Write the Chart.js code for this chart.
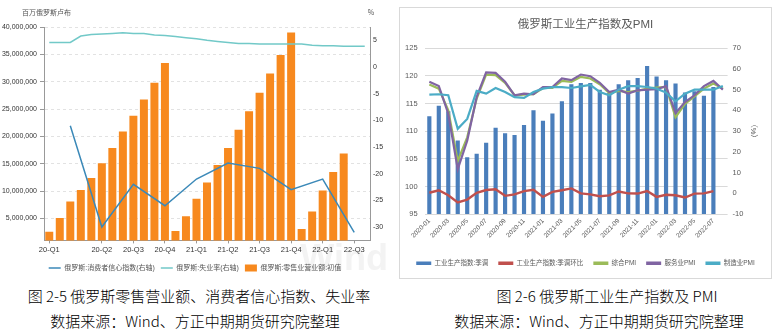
<!DOCTYPE html>
<html>
<head>
<meta charset="utf-8">
<script src="https://cdn.jsdelivr.net/npm/chart.js@4.4.1/dist/chart.umd.min.js"></script>
<style>
  body { margin: 0; background: #fff; }
  #page { position: relative; width: 772px; height: 332px; overflow: hidden; background: #fff; }
  #leftBox { position: absolute; left: 0; top: 0; width: 390px; height: 285px; }
  #rightBox { position: absolute; left: 399px; top: 7px; width: 373px; height: 272px; border: 1px solid #d9d9d9; box-sizing: border-box; }
  #rightBox canvas, #leftBox canvas { display: block; }
  .cap { position: absolute; font-family: "Noto Sans CJK SC", sans-serif; font-weight: 300; font-size: 15px; line-height: 16px; color: #000; white-space: nowrap; transform: translateX(-50%); }
</style>
</head>
<body>
<div id="page">
  <div id="leftBox"><canvas id="retailChart"></canvas></div>
  <div id="rightBox"><canvas id="ipChart"></canvas></div>
  <div class="cap" style="left:199px;top:288px">图 2-5 俄罗斯零售营业额、消费者信心指数、失业率</div>
  <div class="cap" style="left:195px;top:313px">数据来源：Wind、方正中期期货研究院整理</div>
  <div class="cap" style="left:607px;top:288px">图 2-6 俄罗斯工业生产指数及 PMI</div>
  <div class="cap" style="left:599px;top:313px">数据来源：Wind、方正中期期货研究院整理</div>
</div>
<script>
  // --- left chart data (monthly, 2020-01 .. 2022-07) ---
  const retailMonths = [
    '2020-01','2020-02','2020-03','2020-04','2020-05','2020-06','2020-07','2020-08','2020-09','2020-10','2020-11','2020-12',
    '2021-01','2021-02','2021-03','2021-04','2021-05','2021-06','2021-07','2021-08','2021-09','2021-10','2021-11','2021-12',
    '2022-01','2022-02','2022-03','2022-04','2022-05','2022-06','2022-07'
  ];
  const retailQuarterTicks = [
    '20-Q1','','','','','20-Q2','','','20-Q3','','','20-Q4',
    '','','21-Q1','','','21-Q2','','','21-Q3','','','21-Q4',
    '','','22-Q1','','','22-Q3',''
  ];
  // 零售业营业额:初值 (百万俄罗斯卢布, 年内累计)
  const retailTurnover = [
    2600000, 5100000, 8100000, 10200000, 12400000, 15100000, 17900000, 20900000, 23800000, 26750000, 29800000, 33400000,
    2700000, 5400000, 8600000, 11600000, 14800000, 17900000, 21200000, 24600000, 28000000, 31500000, 34900000, 39000000,
    3100000, 6300000, 10100000, 13500000, 16900000, null, null
  ];
  // 消费者信心指数 (季度)
  const consumerConfidence = [
    null, null, -11, null, null, -30, null, null, -22, null, null, -26,
    null, null, -21, null, null, -18, null, null, -19, null, null, -23,
    null, null, -21, null, null, -31, null
  ];
  // 失业率 (%)
  const unemploymentRate = [
    4.6, 4.6, 4.6, 5.8, 6.1, 6.2, 6.3, 6.4, 6.3, 6.3, 6.0, 5.9,
    5.7, 5.5, 5.3, 5.0, 4.8, 4.6, 4.4, 4.4, 4.3, 4.3, 4.3, 4.3,
    4.3, 4.1, 4.0, 4.0, 3.9, 3.9, 3.9
  ];
  const retailAxisTicks = [5000000, 10000000, 15000000, 20000000, 25000000, 30000000, 35000000, 40000000];
  const rateAxisTicks = [-30, -25, -20, -15, -10, -5, 0, 5];

  // --- right chart data (monthly, 2020-01 .. 2022-08) ---
  const ipMonths = [
    '2020-01','2020-02','2020-03','2020-04','2020-05','2020-06','2020-07','2020-08','2020-09','2020-10','2020-11','2020-12',
    '2021-01','2021-02','2021-03','2021-04','2021-05','2021-06','2021-07','2021-08','2021-09','2021-10','2021-11','2021-12',
    '2022-01','2022-02','2022-03','2022-04','2022-05','2022-06','2022-07','2022-08'
  ];
  const ipIndexSA = [
    112.7, 114.6, 113.6, 108.3, 105.3, 105.9, 107.9, 110.6, 109.6, 109.3, 111.1, 113.8,
    111.9, 113.2, 115.4, 118.5, 118.7, 118.7, 117.5, 116.9, 118.5, 119.2, 119.6, 121.8,
    119.9, 119.2, 118.6, 117.0, 117.2, 116.4, 118.0, null
  ];
  const ipMoM = [
    0.3, 1.5, -0.9, -4.4, -3.0, 0.3, 1.6, 2.0, -1.2, -0.5, 1.1, 1.7,
    -1.7, 0.7, 1.5, 2.4, 0.0, -0.5, -1.4, -1.0, 0.9, 0.0, -0.1, 1.1,
    -1.7, -0.7, -0.9, -2.0, -0.1, 0.0, 1.1, null
  ];
  const pmiComposite = [
    52.5, 50.5, 40.0, 15.6, 27.0, 45.7, 57.3, 57.0, 53.3, 47.3, 47.6, 47.8,
    50.8, 50.8, 54.2, 53.8, 56.2, 55.4, 52.6, 48.4, 49.4, 48.8, 49.5, 50.5,
    51.0, 51.3, 36.7, 43.2, 46.8, 50.5, 53.0, 50.5
  ];
  const pmiServices = [
    53.8, 51.8, 38.4, 11.6, 25.4, 46.5, 58.3, 58.1, 53.8, 47.3, 48.1, 47.8,
    51.3, 51.3, 55.4, 54.6, 57.3, 56.5, 53.3, 48.9, 50.0, 48.1, 49.7, 50.0,
    50.2, 51.7, 38.7, 44.0, 47.3, 51.7, 54.2, 50.0
  ];
  const pmiManufacturing = [
    47.6, 47.8, 47.3, 31.1, 35.9, 49.4, 48.1, 50.8, 48.9, 46.4, 46.0, 48.9,
    50.5, 51.2, 51.2, 50.8, 51.6, 52.3, 48.9, 47.3, 50.0, 51.7, 51.7, 51.3,
    50.5, 48.6, 44.4, 48.1, 50.0, 50.0, 50.0, 51.8
  ];

  Chart.defaults.font.family = "'Liberation Sans', 'Noto Sans CJK SC', sans-serif";
  Chart.defaults.animation = false;

  // legend items in dataset order, with line / rect markers
  function legendItems(chart) {
    const items = Chart.defaults.plugins.legend.labels.generateLabels(chart);
    items.forEach(function (it) {
      const ds = chart.data.datasets[it.datasetIndex];
      it.pointStyle = ds.type === 'line' ? 'line' : 'rect';
    });
    return items.sort(function (a, b) { return a.datasetIndex - b.datasetIndex; });
  }

  // unit captions above the axes + faint watermark
  const axisUnits = {
    id: 'axisUnits',
    beforeDraw(chart, args, opts) {
      const ctx = chart.ctx, area = chart.chartArea;
      ctx.save();
      ctx.font = 'bold 36px "Liberation Sans"';
      ctx.fillStyle = '#f3f3f3';
      ctx.textAlign = 'right';
      ctx.textBaseline = 'alphabetic';
      ctx.fillText(opts.mark, area.right + 18, area.bottom + 30);
      ctx.restore();
    },
    afterDraw(chart, args, opts) {
      const ctx = chart.ctx, area = chart.chartArea;
      ctx.save();
      ctx.font = '7px "Noto Sans CJK SC"';
      ctx.fillStyle = '#555';
      ctx.textBaseline = 'middle';
      ctx.textAlign = 'left';
      ctx.fillText(opts.left, area.left - 22, area.top - 15);
      ctx.textAlign = 'center';
      ctx.fillText(opts.right, area.right + 1, area.top - 15);
      ctx.restore();
    }
  };

  new Chart(document.getElementById('retailChart'), {
    type: 'bar',
    plugins: [axisUnits],
    data: {
      labels: retailMonths,
      datasets: [
        { type: 'line', label: '俄罗斯:消费者信心指数(右轴)', data: consumerConfidence, yAxisID: 'yRate',
          borderColor: '#3b89b8', backgroundColor: '#3b89b8', borderWidth: 1.5, pointRadius: 0, spanGaps: true, order: 1 },
        { type: 'line', label: '俄罗斯:失业率(右轴)', data: unemploymentRate, yAxisID: 'yRate',
          borderColor: '#72c9c8', backgroundColor: '#72c9c8', borderWidth: 1.5, pointRadius: 0, order: 2 },
        { label: '俄罗斯:零售业营业额:初值', data: retailTurnover, yAxisID: 'yRetail',
          backgroundColor: '#f7891e', borderWidth: 0, categoryPercentage: 1, barPercentage: 0.76, order: 3 }
      ]
    },
    options: {
      responsive: true,
      maintainAspectRatio: false,
      layout: { padding: { top: 27, left: 0, right: 0, bottom: 3.6 } },
      plugins: {
        tooltip: { enabled: false },
        axisUnits: { left: '百万俄罗斯卢布', right: '%', mark: 'Wind' },
        legend: {
          position: 'bottom',
          labels: {
            usePointStyle: true, pointStyleWidth: 12, boxHeight: 7, padding: 6,
            color: '#555', font: { size: 7 }, generateLabels: legendItems
          }
        }
      },
      scales: {
        x: {
          offset: true,
          grid: {
            offset: false, drawOnChartArea: false, tickLength: 3,
            color: function (c) { return retailQuarterTicks[c.index] ? '#999' : 'rgba(0,0,0,0)'; }
          },
          border: { color: '#999' },
          ticks: {
            autoSkip: false, maxRotation: 0, minRotation: 0, padding: 2,
            color: '#333', font: { size: 7.5 },
            callback: function (v, i) { return retailQuarterTicks[i]; }
          },
          afterFit: function (s) { s.height = 18; }
        },
        yRetail: {
          position: 'left', min: 1000000, max: 40000000,
          afterBuildTicks: function (s) { s.ticks = retailAxisTicks.map(function (v) { return { value: v }; }); },
          afterFit: function (s) { s.width = 44; },
          grid: { color: '#e2e2e2', tickColor: '#999', tickLength: 4 },
          border: { color: '#999', dash: [3, 3] },
          ticks: {
            padding: 3, color: '#333', font: { size: 7 },
            callback: function (v) { return v.toLocaleString('en-US'); }
          }
        },
        yRate: {
          position: 'right', min: -32.5, max: 7.5,
          afterBuildTicks: function (s) { s.ticks = rateAxisTicks.map(function (v) { return { value: v }; }); },
          afterFit: function (s) { s.width = 20; },
          grid: { display: false, drawTicks: false },
          border: { color: '#999' },
          ticks: { padding: 3, color: '#333', font: { size: 7 } }
        }
      }
    }
  });

  new Chart(document.getElementById('ipChart'), {
    type: 'bar',
    data: {
      labels: ipMonths,
      datasets: [
        { label: '工业生产指数:季调', data: ipIndexSA, yAxisID: 'y',
          backgroundColor: '#4a7ebb', borderColor: '#4a7ebb', borderWidth: 0,
          categoryPercentage: 1, barPercentage: 0.44, order: 6 },
        { type: 'line', label: '工业生产指数:季调环比', data: ipMoM, yAxisID: 'y1',
          borderColor: '#c0504d', backgroundColor: '#c0504d', borderWidth: 2.4, pointRadius: 0, order: 5 },
        { type: 'line', label: '综合PMI', data: pmiComposite, yAxisID: 'y1',
          borderColor: '#9bbb59', backgroundColor: '#9bbb59', borderWidth: 2.2, pointRadius: 0, order: 4 },
        { type: 'line', label: '服务业PMI', data: pmiServices, yAxisID: 'y1',
          borderColor: '#8064a2', backgroundColor: '#8064a2', borderWidth: 2.2, pointRadius: 0, order: 3 },
        { type: 'line', label: '制造业PMI', data: pmiManufacturing, yAxisID: 'y1',
          borderColor: '#4bacc6', backgroundColor: '#4bacc6', borderWidth: 2.2, pointRadius: 0, order: 2 }
      ]
    },
    options: {
      responsive: true,
      maintainAspectRatio: false,
      layout: { padding: { top: 0, left: 0, right: 0, bottom: 1.4 } },
      plugins: {
        tooltip: { enabled: false },
        title: {
          display: true, text: '俄罗斯工业生产指数及PMI', color: '#595959',
          font: { size: 11.5, weight: 'normal' }, padding: { top: 10, bottom: 16.4 }
        },
        legend: {
          position: 'bottom',
          labels: {
            boxWidth: 15, boxHeight: 3.5, padding: 10, color: '#595959', font: { size: 6.5 },
            sort: function (a, b) { return a.datasetIndex - b.datasetIndex; },
            generateLabels: function (chart) {
              return Chart.defaults.plugins.legend.labels.generateLabels(chart).map(function (it) {
                it.lineWidth = 0;
                it.fillStyle = chart.data.datasets[it.datasetIndex].borderColor;
                return it;
              });
            }
          }
        }
      },
      scales: {
        x: {
          offset: true,
          grid: { display: false, drawTicks: false },
          border: { display: false },
          ticks: {
            autoSkip: false, maxRotation: 45, minRotation: 45, padding: 3,
            color: '#595959', font: { size: 6.5 },
            callback: function (v, i) { return i % 2 === 0 ? ipMonths[i] : ''; }
          },
          afterFit: function (s) { s.height = 36; }
        },
        y: {
          position: 'left', min: 95, max: 125,
          afterFit: function (s) { s.width = 24.6; },
          grid: { color: '#d9d9d9', drawTicks: false },
          border: { display: false },
          ticks: { stepSize: 5, padding: 7, color: '#595959', font: { size: 7.5 } }
        },
        y1: {
          position: 'right', min: -10, max: 70,
          afterFit: function (s) { s.width = 43.4; },
          grid: { display: false, drawTicks: false },
          border: { display: false },
          ticks: { stepSize: 10, padding: 5, color: '#595959', font: { size: 7.5 } },
          title: { display: true, text: '（%）', color: '#595959', font: { size: 7.5 }, padding: { top: 13.5, bottom: 0 } }
        }
      }
    }
  });
</script>
</body>
</html>
